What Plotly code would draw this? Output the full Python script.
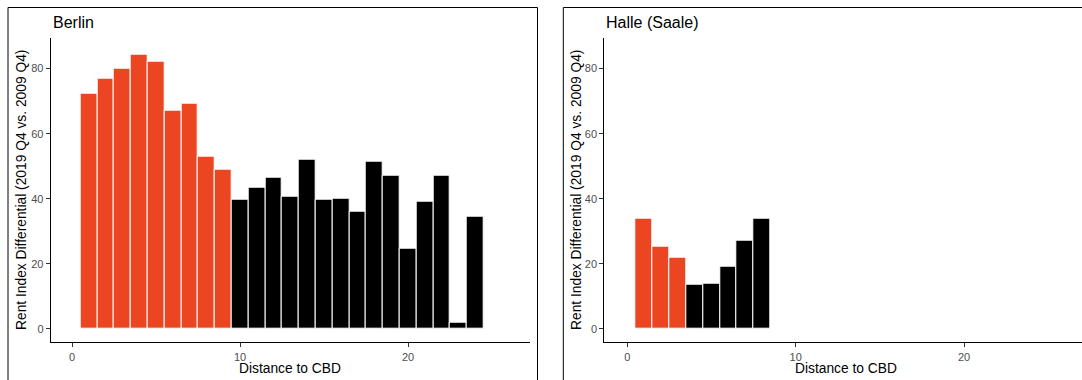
import plotly.graph_objects as go

# ---- data ----
berlin_distance = list(range(1, 25))
berlin_values = [72.2, 76.8, 79.9, 84.2, 82.0, 67.0, 69.1, 53.0, 49.0,
                 39.8, 43.4, 46.5, 40.7, 52.0, 39.8, 40.1, 36.1, 51.4,
                 47.1, 24.8, 39.2, 47.1, 1.8, 34.6]
berlin_group = ["inner"] * 9 + ["outer"] * 15

halle_distance = list(range(1, 9))
halle_values = [34.0, 25.4, 22.0, 13.5, 13.8, 19.0, 27.0, 34.0]
halle_group = ["inner"] * 3 + ["outer"] * 5

x_ticks = [0, 10, 20]
y_ticks = [0, 20, 40, 60, 80]

group_colors = {"inner": "#EC4522", "outer": "#000000"}

W, H = 1082, 380
FONT = "Liberation Sans, Arial, sans-serif"

fig = go.Figure()

def add_bars(xs, ys, groups, xa, ya):
    fig.add_trace(go.Bar(
        x=xs, y=ys, width=1,
        marker=dict(color=[group_colors[g] for g in groups],
                    line=dict(color="white", width=1)),
        xaxis=xa, yaxis=ya, showlegend=False, hoverinfo="x+y"))

add_bars(berlin_distance, berlin_values, berlin_group, "x", "y")
add_bars(halle_distance, halle_values, halle_group, "x2", "y2")

ydom = [1 - 342.3 / H, 1 - 37.7 / H]
yrange = [-4.09, 89.5]

axis_common = dict(showgrid=False, zeroline=False, showline=True,
                   linecolor="black", linewidth=1, ticks="outside",
                   ticklen=4, tickcolor="#333333", tickwidth=1,
                   tickfont=dict(family=FONT, size=11, color="#4D4D4D"))

fig.update_layout(
    template="none",
    width=W, height=H,
    margin=dict(l=0, r=0, t=0, b=0),
    paper_bgcolor="white", plot_bgcolor="white",
    bargap=0,
    font=dict(family=FONT, color="black"),
    xaxis=dict(domain=[50.7 / W, 530 / W], range=[-1.27, 27.26],
               tickvals=x_ticks, anchor="y", **axis_common),
    yaxis=dict(domain=ydom, range=yrange, tickvals=y_ticks,
               anchor="x", **axis_common),
    xaxis2=dict(domain=[604.3 / W, 1.0], range=[-1.37, 27.01],
                tickvals=x_ticks, anchor="y2", **axis_common),
    yaxis2=dict(domain=ydom, range=yrange, tickvals=y_ticks,
                anchor="x2", **axis_common),
)

# panel frames
fig.add_shape(type="rect", xref="paper", yref="paper",
              x0=8 / W, x1=537.5 / W, y0=-0.2, y1=1 - 7.5 / H,
              line=dict(color="black", width=1), fillcolor="rgba(0,0,0,0)")
fig.add_shape(type="rect", xref="paper", yref="paper",
              x0=563.3 / W, x1=1.2, y0=-0.2, y1=1 - 7.5 / H,
              line=dict(color="black", width=1), fillcolor="rgba(0,0,0,0)")

panels = [
    ("Berlin", 50.7, 530, 21),
    ("Halle (Saale)", 604.3, 1087, 576),
]
ytitle = "Rent Index Differential (2019 Q4 vs. 2009 Q4)"
for title, left, right, ytx in panels:
    fig.add_annotation(text=title, xref="paper", yref="paper",
                       x=left / W, y=1 - 22.2 / H, xanchor="left", yanchor="middle",
                       showarrow=False, font=dict(family=FONT, size=16, color="black"))
    fig.add_annotation(text="Distance to CBD", xref="paper", yref="paper",
                       x=(left + right) / 2 / W, y=1 - 368.3 / H,
                       xanchor="center", yanchor="middle", showarrow=False,
                       font=dict(family=FONT, size=13.8, color="black"))
    fig.add_annotation(text=ytitle, xref="paper", yref="paper",
                       x=ytx / W, y=1 - 190 / H, textangle=-90,
                       xanchor="center", yanchor="middle", showarrow=False,
                       font=dict(family=FONT, size=13.8, color="black"))

fig.write_html("out.html",
               config={"displayModeBar": False},
               post_script="document.body.style.margin='0';document.body.style.overflow='hidden';")
